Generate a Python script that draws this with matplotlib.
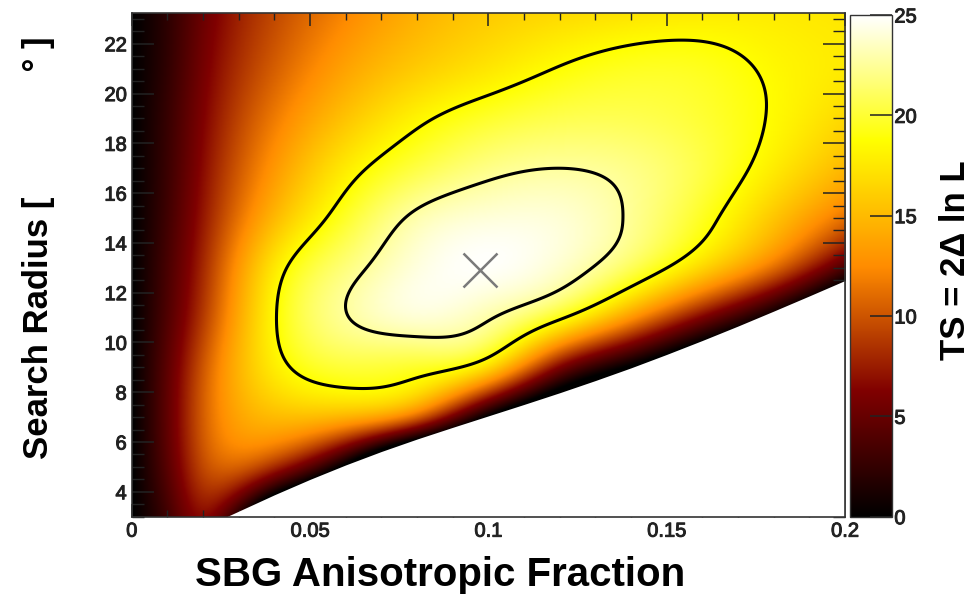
import numpy as np
import matplotlib
matplotlib.use('Agg')
import matplotlib.pyplot as plt
import matplotlib.patheffects as pe
from matplotlib.colors import LinearSegmentedColormap
from matplotlib.ticker import MultipleLocator, FixedLocator

plt.rcParams['font.family'] = ['Liberation Sans', 'DejaVu Sans']

# scan nodes: anisotropic fraction (columns) and search radius in degrees (rows)
frac = [0.0, 0.01, 0.02, 0.04, 0.06, 0.08, 0.10, 0.12, 0.14, 0.16, 0.18, 0.20]
radius = [3.0, 5.0, 7.0, 9.0, 11.0, 13.0, 15.0, 17.0, 19.0, 21.0, 23.25]

# TS at each node, one row per radius (negative = no valid fit)
ts_r03 = [0, 3.3, 6.5, -8.0, -16.0, -20.0, -24.0, -27.0, -30.0, -32.0, -34.0, -36.0]
ts_r05 = [0, 4.5, 9.5, 8.0, -1.0, -13.0, -16.0, -20.0, -24.0, -28.0, -30.0, -32.0]
ts_r07 = [0, 4.9, 10.5, 15.0, 14.5, 10.5, -0.5, -8.0, -12.0, -16.0, -20.0, -24.0]
ts_r09 = [0, 4.7, 10.2, 17.8, 20.1, 19.7, 16.6, 6.0, -0.5, -6.0, -10.0, -14.0]
ts_r11 = [0, 4.1, 9.0, 18.5, 22.5, 23.9, 22.8, 19.1, 12.9, 6.0, -0.5, -8.0]
ts_r13 = [0, 3.7, 8.2, 17.6, 21.8, 24.2, 24.83, 23.7, 20.8, 16.4, 11.0, 3.5]
ts_r15 = [0, 3.3, 7.4, 15.0, 19.8, 23.0, 24.07, 23.95, 22.35, 19.5, 15.6, 11.2]
ts_r17 = [0, 3.0, 6.8, 13.2, 17.75, 20.45, 22.07, 22.6, 22.05, 20.4, 17.7, 14.8]
ts_r19 = [0, 2.8, 6.3, 11.8, 15.6, 18.25, 19.85, 20.67, 20.73, 20.0, 18.5, 16.6]
ts_r21 = [0, 2.5, 5.8, 10.5, 13.8, 16.0, 17.5, 18.8, 19.54, 19.42, 18.42, 17.6]
ts_r23 = [0, 2.3, 5.3, 9.5, 12.3, 14.5, 15.9, 16.7, 17.3, 17.7, 17.7, 17.4]

# best fit and the 1 sigma / 2 sigma levels (TS_max - 2.30, TS_max - 6.18)
best_frac = 0.0977
best_radius = 12.9
contour_levels = [18.7, 22.6]

# lower edge of the allowed region
edge_frac = [0.0266, 0.04, 0.05, 0.06, 0.07, 0.08, 0.09, 0.10, 0.11, 0.12,
             0.13, 0.14, 0.15, 0.16, 0.17, 0.18, 0.19, 0.20]
edge_radius = [3.0, 3.88, 4.50, 5.08, 5.62, 6.12, 6.59, 7.05, 7.51, 7.98,
               8.47, 8.98, 9.52, 10.08, 10.66, 11.26, 11.87, 12.49]

ts = np.array([ts_r03, ts_r05, ts_r07, ts_r09, ts_r11, ts_r13,
               ts_r15, ts_r17, ts_r19, ts_r21, ts_r23])


def spline_weights(knots, pts):
    """Natural cubic spline as a matrix: values at pts = W @ values at knots."""
    xk = np.asarray(knots, float)
    n = len(xk)
    h = np.diff(xk)
    A = np.zeros((n, n))
    B = np.zeros((n, n))
    A[0, 0] = A[-1, -1] = 1.0
    for i in range(1, n - 1):
        A[i, i - 1], A[i, i], A[i, i + 1] = h[i - 1], 2 * (h[i - 1] + h[i]), h[i]
        B[i, i - 1], B[i, i + 1] = 6 / h[i - 1], 6 / h[i]
        B[i, i] = -6 / h[i - 1] - 6 / h[i]
    M = np.linalg.solve(A, B)
    k = np.clip(np.searchsorted(xk, pts) - 1, 0, n - 2)
    W = np.zeros((len(pts), n))
    for r, (j, p) in enumerate(zip(k, pts)):
        a = (xk[j + 1] - p) / h[j]
        b = 1.0 - a
        W[r, j] += a
        W[r, j + 1] += b
        W[r] += ((a ** 3 - a) * M[j] + (b ** 3 - b) * M[j + 1]) * h[j] ** 2 / 6
    return W


# ROOT "dark body radiator" palette
cmap = LinearSegmentedColormap('darkbody', {
    'red':   [(0.0, 0.0, 0.0), (0.25, 0.5, 0.5), (0.5, 1.0, 1.0), (0.75, 1.0, 1.0), (1.0, 1.0, 1.0)],
    'green': [(0.0, 0.0, 0.0), (0.25, 0.0, 0.0), (0.5, 0.55, 0.55), (0.75, 1.0, 1.0), (1.0, 1.0, 1.0)],
    'blue':  [(0.0, 0.0, 0.0), (0.25, 0.0, 0.0), (0.5, 0.0, 0.0), (0.75, 0.0, 0.0), (1.0, 1.0, 1.0)],
}, N=512)

# smooth display grid
gx = np.linspace(frac[0], frac[-1], 401)
gy = np.linspace(radius[0], radius[-1], 401)
field = spline_weights(radius, gy) @ ts @ spline_weights(frac, gx).T

fig = plt.figure(figsize=(9.78, 6.01), dpi=100)
ax = fig.add_axes([0.1347, 0.1403, 0.7293, 0.8386])
cax = fig.add_axes([0.869, 0.1403, 0.0426, 0.8347])

img = ax.imshow(field, extent=[gx[0], gx[-1], gy[0], gy[-1]], origin='lower',
                aspect='auto', cmap=cmap, vmin=0, vmax=25, interpolation='bilinear')
ax.contour(gx, gy, field, levels=contour_levels, colors='black', linewidths=2.2)
ax.fill_between(edge_frac, 3.0, edge_radius, color='white', lw=0, zorder=3)
ax.plot(best_frac, best_radius, marker='x', ms=24, mew=1.8, color='#7a7a7a', zorder=4)

ax.set_xlim(0, 0.2)
ax.set_ylim(3, 23.25)
ax.xaxis.set_major_locator(FixedLocator([0, 0.05, 0.1, 0.15, 0.2]))
ax.set_xticklabels(['0', '0.05', '0.1', '0.15', '0.2'])
ax.xaxis.set_minor_locator(MultipleLocator(0.01))
ax.yaxis.set_major_locator(FixedLocator(list(range(4, 23, 2))))
ax.yaxis.set_minor_locator(MultipleLocator(0.5))

ax.tick_params(axis='x', which='major', direction='in', length=9.4, width=1.1,
               top=True, bottom=True, labelsize=14.5, pad=3.6, colors='#222222')
ax.tick_params(axis='x', which='minor', direction='in', length=5, width=1,
               top=True, bottom=True, colors='#222222')
ax.tick_params(axis='y', which='major', direction='in', length=15.8, width=1.1,
               left=True, right=True, labelsize=14.5, pad=3.6, colors='#222222')
ax.tick_params(axis='y', which='minor', direction='in', length=8.6, width=1,
               left=True, right=True, colors='#222222')
for sp in ax.spines.values():
    sp.set_linewidth(1.2)
    sp.set_color('#333333')
    sp.set_zorder(5)

cb = fig.colorbar(img, cax=cax, ticks=[0, 5, 10, 15, 20, 25])
cb.outline.set_linewidth(1.0)
cb.outline.set_edgecolor('#333333')
cax.tick_params(direction='in', length=15.8, width=1.1, labelsize=14.5, pad=2,
                colors='#222222')

# slightly heavier tick numbers
heavy = [pe.withStroke(linewidth=0.7, foreground='#222222')]
for lab in ax.get_xticklabels() + ax.get_yticklabels() + cax.get_yticklabels():
    lab.set_path_effects(heavy)

fig.text(0.45, 0.043, 'SBG Anisotropic Fraction', ha='center', va='center',
         fontsize=29, fontweight='bold')
fig.text(0.039, 0.588, 'Search Radius [' + ' ' * 13 + '° ]', ha='center', va='center',
         rotation=90, fontsize=25, fontweight='bold')
fig.text(0.9765, 0.567, 'TS = 2Δ ln L', ha='center', va='center',
         rotation=90, fontsize=25, fontweight='bold')

fig.savefig('out.png', dpi=100)
